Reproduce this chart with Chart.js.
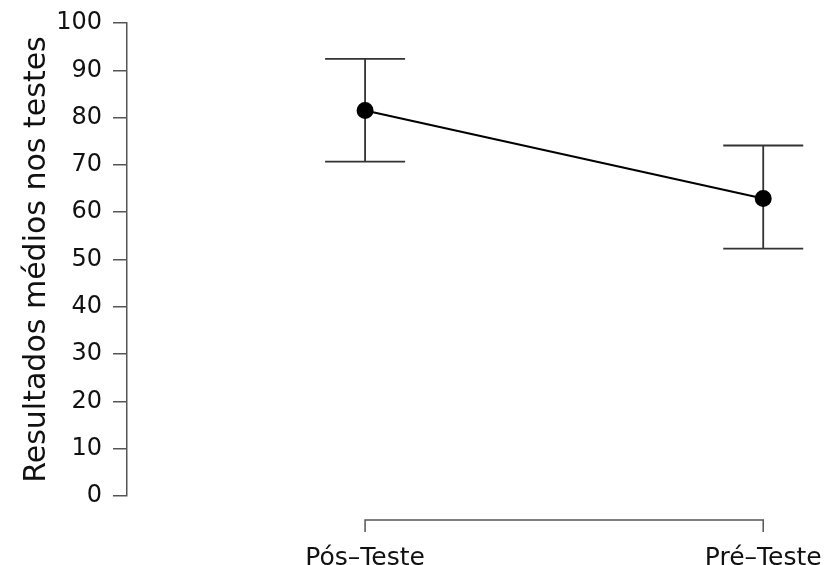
<!DOCTYPE html>
<html>
<head>
<meta charset="utf-8">
<script src="https://cdn.jsdelivr.net/npm/chart.js@4/dist/chart.umd.min.js"></script>
<style>
  html, body { margin: 0; padding: 0; background: #fff; }
  #wrap { width: 824px; height: 565px; }
</style>
</head>
<body>
<div id="wrap"><canvas id="c" width="824" height="565"></canvas></div>
<script>
// Mean test scores with their error-bar limits
const categories = ['Pós–Teste', 'Pré–Teste'];
const means = [81.5, 62.9];
const lower = [70.7, 52.3];
const upper = [92.4, 74.1];
const yTicks = [0, 10, 20, 30, 40, 50, 60, 70, 80, 90, 100];

const axisColor = '#555';
const textColor = '#111';
const font = 'DejaVu Sans';

// Error bars and the bracket-style x axis, drawn from the chart scales
const errorBars = {
  id: 'errorBars',
  beforeDatasetsDraw(chart) {
    const { ctx, scales: { x, y } } = chart;
    ctx.save();
    ctx.strokeStyle = '#333';
    ctx.lineWidth = 1.8;
    const cap = 40;
    means.forEach((m, i) => {
      const px = x.getPixelForValue(i);
      const top = y.getPixelForValue(upper[i]);
      const bot = y.getPixelForValue(lower[i]);
      ctx.beginPath();
      ctx.moveTo(px, top); ctx.lineTo(px, bot);
      ctx.moveTo(px - cap, top); ctx.lineTo(px + cap, top);
      ctx.moveTo(px - cap, bot); ctx.lineTo(px + cap, bot);
      ctx.stroke();
    });
    ctx.restore();
  },
  afterDraw(chart) {
    const { ctx, chartArea, scales: { x } } = chart;
    const x0 = x.getPixelForValue(0);
    const x1 = x.getPixelForValue(categories.length - 1);
    const yb = chartArea.bottom + 24;
    ctx.save();
    ctx.strokeStyle = axisColor;
    ctx.lineWidth = 1.5;
    ctx.beginPath();
    ctx.moveTo(x0, yb + 12); ctx.lineTo(x0, yb);
    ctx.lineTo(x1, yb); ctx.lineTo(x1, yb + 12);
    ctx.stroke();
    ctx.restore();
  }
};

new Chart(document.getElementById('c'), {
  type: 'line',
  data: {
    datasets: [{
      data: means.map((v, i) => ({ x: i, y: v })),
      borderColor: '#000',
      borderWidth: 2,
      pointBackgroundColor: '#000',
      pointBorderColor: '#000',
      pointRadius: 7.5,
      pointHoverRadius: 7.5,
      tension: 0
    }]
  },
  options: {
    responsive: false,
    animation: false,
    events: [],
    layout: { padding: { top: 23, right: 13, left: 0, bottom: 0 } },
    plugins: { legend: { display: false }, tooltip: { enabled: false } },
    scales: {
      x: {
        type: 'linear',
        min: -0.598,
        max: 1.12,
        grid: { display: false },
        border: { display: false },
        afterBuildTicks: s => { s.ticks = categories.map((c, i) => ({ value: i })); },
        afterFit: s => { s.height = 69; s.paddingLeft = 0; s.paddingRight = 0; },
        ticks: {
          callback: v => categories[v],
          color: textColor,
          font: { family: font, size: 25 },
          padding: 39,
          maxRotation: 0,
          autoSkip: false
        }
      },
      y: {
        min: 0,
        max: 100,
        afterBuildTicks: s => { s.ticks = yTicks.map(v => ({ value: v })); },
        afterFit: s => { s.width = 127; s.paddingTop = 0; s.paddingBottom = 0; },
        grid: { drawOnChartArea: false, drawTicks: true, tickLength: 14, color: axisColor, lineWidth: 1.5 },
        border: { display: true, color: axisColor, width: 1.5 },
        ticks: {
          color: textColor,
          font: { family: font, size: 24 },
          padding: 11
        },
        title: {
          display: true,
          text: 'Resultados médios nos testes',
          color: textColor,
          font: { family: font, size: 30 },
          padding: { top: 19, bottom: 0 }
        }
      }
    }
  },
  plugins: [errorBars]
});
</script>
</body>
</html>
